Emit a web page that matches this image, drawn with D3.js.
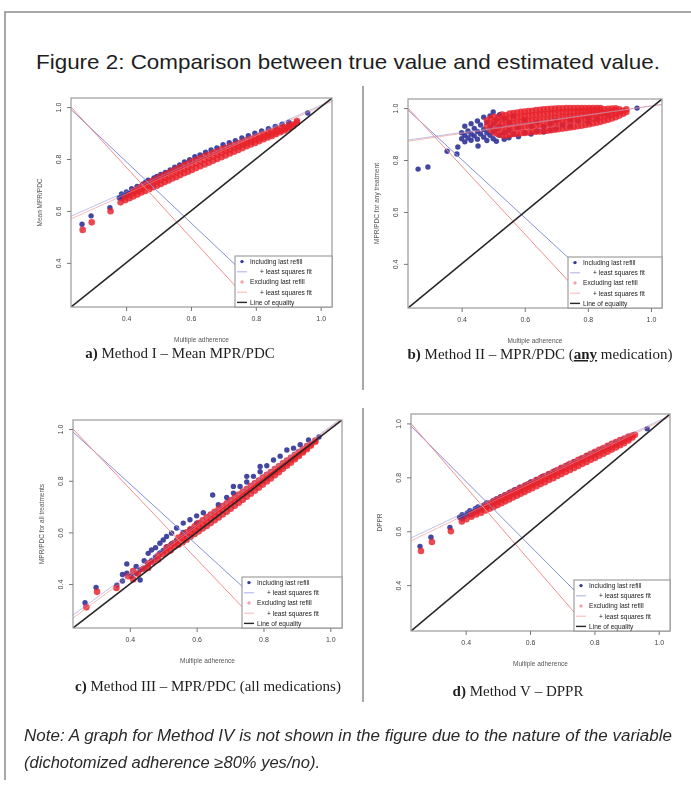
<!DOCTYPE html>
<html>
<head>
<meta charset="utf-8">
<script src="https://cdn.jsdelivr.net/npm/d3@7/dist/d3.min.js"></script>
<style>
  body { margin: 0; background: #fff; }
  svg { display: block; }
</style>
</head>
<body>
<div id="vis"></div>
<script>
// Frame size
const FRAME_WIDTH = 691;
const FRAME_HEIGHT = 787;

// ---- Data ----
const TITLE = "Figure 2: Comparison between true value and estimated value.";
const NOTE_LINES = ["Note: A graph for Method IV is not shown in the figure due to the nature of the variable",
                    "(dichotomized adherence \u226580% yes/no)."];
const TICKS = [0.4, 0.6, 0.8, 1.0];
const TICK_LABELS = ["0.4", "0.6", "0.8", "1.0"];
const AXIS_RANGE = [0.23, 1.035];
const X_TITLE = "Multiple adherence";
const Y_TITLES = ["Mean MPR/PDC", "MPR/PDC for any treatment", "MPR/PDC for all treatments", "DPPR"];
const CAPTIONS = ["a) Method I \u2013 Mean MPR/PDC", "b) Method II \u2013 MPR/PDC (any medication)",
                  "c) Method III \u2013 MPR/PDC (all medications)", "d) Method V \u2013 DPPR"];
const CAPTION_EMPHASIS = ["", "any", "", ""];
const LEGEND_LABELS = ["Including last refill", "+ least squares fit", "Excluding last refill", "+ least squares fit", "Line of equality"];

// least squares fit lines [intercept, slope]
const FIT_INCL = [[0.452, 0.555], [0.838, 0.17], [0.062, 0.948], [0.445, 0.565]];
const FIT_EXCL = [[0.44, 0.562], [0.832, 0.176], [0.048, 0.958], [0.433, 0.572]];
// falling lines drawn from the top-left corner [intercept, slope]
const FALL_INCL = [[1.262, -1.18], [1.25, -1.12], [1.26, -1.18], [1.266, -1.2]];
const FALL_EXCL = [[1.313, -1.36], [1.301, -1.31], [1.313, -1.36], [1.317, -1.38]];

// scatter points: each row is x followed by the y values read at that x
const INCL_A = [
  [0.264, 0.549], [0.292, 0.581], [0.350, 0.612], [0.379, 0.651], [0.386, 0.665, 0.647],
  [0.393, 0.657], [0.401, 0.673, 0.66], [0.409, 0.667], [0.417, 0.686, 0.671], [0.426, 0.679],
  [0.434, 0.694, 0.682], [0.443, 0.689], [0.451, 0.703, 0.69], [0.46, 0.711], [0.468, 0.703, 0.718],
  [0.477, 0.713], [0.486, 0.727], [0.495, 0.72, 0.733], [0.507, 0.741], [0.521, 0.748],
  [0.536, 0.758], [0.55, 0.768], [0.565, 0.777], [0.58, 0.789], [0.596, 0.797], [0.612, 0.809],
  [0.628, 0.816], [0.645, 0.826], [0.662, 0.835], [0.68, 0.843], [0.699, 0.855], [0.718, 0.863],
  [0.737, 0.871], [0.757, 0.881], [0.777, 0.89], [0.797, 0.899], [0.818, 0.908], [0.839, 0.917],
  [0.86, 0.925], [0.881, 0.934], [0.902, 0.942], [0.96, 0.977]
];
const EXCL_A = [
  [0.266, 0.527], [0.294, 0.556], [0.352, 0.599], [0.383, 0.633], [0.397, 0.641, 0.652],
  [0.41, 0.649, 0.661], [0.422, 0.656, 0.669, 0.677], [0.435, 0.663, 0.676, 0.686],
  [0.447, 0.671, 0.684, 0.694], [0.459, 0.677, 0.691, 0.703], [0.471, 0.684, 0.698, 0.709],
  [0.483, 0.691, 0.706, 0.717], [0.495, 0.697, 0.712, 0.724], [0.507, 0.704, 0.72, 0.732],
  [0.519, 0.711, 0.727, 0.739], [0.531, 0.717, 0.734, 0.746], [0.543, 0.725, 0.741, 0.754],
  [0.555, 0.731, 0.748, 0.76], [0.567, 0.738, 0.755, 0.768], [0.579, 0.745, 0.762, 0.776],
  [0.591, 0.751, 0.769, 0.782], [0.603, 0.758, 0.776, 0.79], [0.616, 0.765, 0.783, 0.796],
  [0.629, 0.772, 0.79, 0.803], [0.642, 0.779, 0.797, 0.811], [0.655, 0.786, 0.804, 0.816],
  [0.668, 0.793, 0.81, 0.824], [0.681, 0.8, 0.817, 0.829], [0.694, 0.807, 0.823, 0.837],
  [0.707, 0.814, 0.83, 0.842], [0.72, 0.821, 0.836, 0.849], [0.733, 0.828, 0.843, 0.854],
  [0.746, 0.835, 0.849, 0.861], [0.759, 0.842, 0.855, 0.866], [0.772, 0.849, 0.861, 0.873],
  [0.785, 0.856, 0.867, 0.878], [0.798, 0.862, 0.873, 0.885], [0.811, 0.869, 0.879, 0.889],
  [0.824, 0.876, 0.885, 0.896], [0.837, 0.883, 0.891, 0.9], [0.85, 0.889, 0.897, 0.907],
  [0.863, 0.896, 0.903, 0.911], [0.876, 0.903, 0.909, 0.918], [0.889, 0.91, 0.916, 0.922],
  [0.902, 0.918, 0.923, 0.929], [0.915, 0.927, 0.933], [0.927, 0.94, 0.946]
];
const INCL_B = [
  [0.262, 0.765], [0.293, 0.773], [0.354, 0.834], [0.385, 0.823], [0.388, 0.85], [0.452, 0.854],
  [0.40, 0.905, 0.882], [0.41, 0.93, 0.895, 0.87], [0.42, 0.912, 0.885], [0.43, 0.94, 0.9, 0.876],
  [0.44, 0.922, 0.893], [0.45, 0.95, 0.91, 0.88], [0.46, 0.935, 0.9], [0.47, 0.965, 0.918, 0.888],
  [0.48, 0.945, 0.905, 0.875], [0.49, 0.97, 0.925, 0.895], [0.50, 0.985, 0.94, 0.91, 0.882],
  [0.51, 0.955, 0.918, 0.872], [0.52, 0.975, 0.93, 0.895], [0.535, 0.96, 0.905, 0.88],
  [0.55, 0.945, 0.915, 0.886], [0.565, 0.97, 0.9], [0.58, 0.925, 0.89], [0.6, 0.955, 0.905],
  [0.62, 0.93, 0.9], [0.64, 0.945, 0.912], [0.66, 0.928, 0.908], [0.68, 0.94, 0.915], [0.7, 0.952, 0.92],
  [0.72, 0.935], [0.745, 0.955, 0.93], [0.77, 0.95], [0.8, 0.962, 0.945], [0.83, 0.958], [0.86, 0.975],
  [0.956, 1.0]
];
const EXCL_B = [
  [0.48, 0.93, 0.952], [0.492, 0.915, 0.94, 0.962], [0.504, 0.905, 0.926, 0.948, 0.966],
  [0.516, 0.899, 0.922, 0.944, 0.963], [0.528, 0.896, 0.918, 0.938, 0.958, 0.975],
  [0.54, 0.893, 0.915, 0.936, 0.955, 0.972], [0.552, 0.897, 0.92, 0.94, 0.96, 0.979],
  [0.564, 0.9, 0.921, 0.943, 0.962, 0.981], [0.576, 0.901, 0.924, 0.944, 0.965, 0.983],
  [0.588, 0.903, 0.925, 0.947, 0.966, 0.986], [0.60, 0.904, 0.928, 0.948, 0.969, 0.987],
  [0.612, 0.906, 0.929, 0.95, 0.97, 0.989], [0.624, 0.908, 0.931, 0.952, 0.972, 0.99],
  [0.636, 0.909, 0.932, 0.954, 0.973, 0.992], [0.648, 0.91, 0.934, 0.955, 0.975, 0.993],
  [0.66, 0.912, 0.935, 0.957, 0.977, 0.995], [0.672, 0.913, 0.937, 0.958, 0.978, 0.996],
  [0.684, 0.915, 0.939, 0.96, 0.98, 0.997], [0.696, 0.917, 0.941, 0.962, 0.981, 0.998],
  [0.708, 0.919, 0.943, 0.963, 0.983, 0.999], [0.72, 0.921, 0.944, 0.965, 0.984, 0.999],
  [0.732, 0.923, 0.946, 0.966, 0.985, 1.0], [0.744, 0.925, 0.948, 0.968, 0.986, 1.0],
  [0.756, 0.927, 0.95, 0.969, 0.987, 1.0], [0.768, 0.93, 0.952, 0.971, 0.988, 1.0],
  [0.78, 0.932, 0.954, 0.972, 0.989, 1.0], [0.792, 0.935, 0.956, 0.974, 0.99, 1.0],
  [0.804, 0.938, 0.958, 0.976, 0.991, 1.0], [0.816, 0.941, 0.96, 0.977, 0.992, 1.0],
  [0.828, 0.944, 0.962, 0.979, 0.993, 1.0], [0.84, 0.947, 0.965, 0.98, 0.994, 1.0],
  [0.852, 0.951, 0.968, 0.982, 0.995], [0.864, 0.955, 0.971, 0.985, 0.997],
  [0.876, 0.96, 0.975, 0.988, 0.998], [0.888, 0.965, 0.979, 0.991, 0.999],
  [0.9, 0.971, 0.984, 0.995], [0.912, 0.978, 0.99], [0.922, 0.985, 0.995]
];
const INCL_C = [
  [0.266, 0.328], [0.299, 0.387], [0.361, 0.396], [0.378, 0.437, 0.412], [0.391, 0.478, 0.442],
  [0.404, 0.43], [0.419, 0.442, 0.468], [0.431, 0.416, 0.455], [0.443, 0.49, 0.462],
  [0.455, 0.519, 0.475], [0.465, 0.532, 0.49], [0.477, 0.505, 0.541], [0.49, 0.558, 0.52],
  [0.5, 0.53, 0.571], [0.51, 0.584, 0.545], [0.525, 0.597, 0.556], [0.54, 0.617, 0.57],
  [0.56, 0.636, 0.6], [0.58, 0.649, 0.612], [0.6, 0.664, 0.636], [0.62, 0.676], [0.648, 0.745],
  [0.665, 0.707], [0.69, 0.735], [0.71, 0.778, 0.752], [0.73, 0.778], [0.75, 0.817, 0.795],
  [0.77, 0.817], [0.79, 0.855, 0.835], [0.81, 0.858], [0.83, 0.88], [0.85, 0.895], [0.87, 0.919],
  [0.89, 0.926], [0.91, 0.939], [0.935, 0.958], [0.966, 0.969]
];
const EXCL_C = [
  [0.27, 0.31], [0.302, 0.37], [0.36, 0.385], [0.395, 0.43], [0.41, 0.45, 0.418], [0.425, 0.44],
  [0.44, 0.458], [0.455, 0.462, 0.48], [0.47, 0.485], [0.485, 0.495, 0.51], [0.5, 0.515],
  [0.51, 0.525, 0.54], [0.522, 0.53, 0.548], [0.534, 0.545, 0.56], [0.546, 0.552, 0.568, 0.58],
  [0.558, 0.562, 0.578, 0.59], [0.57, 0.572, 0.588, 0.6], [0.582, 0.583, 0.598, 0.612],
  [0.594, 0.594, 0.61, 0.624], [0.606, 0.604, 0.621, 0.636], [0.618, 0.615, 0.632, 0.647],
  [0.63, 0.625, 0.643, 0.658], [0.642, 0.636, 0.654, 0.669], [0.654, 0.647, 0.665, 0.68],
  [0.666, 0.658, 0.676, 0.691], [0.678, 0.669, 0.687, 0.702], [0.69, 0.68, 0.698, 0.713],
  [0.702, 0.692, 0.71, 0.724], [0.714, 0.703, 0.721, 0.735], [0.726, 0.715, 0.732, 0.746],
  [0.738, 0.726, 0.744, 0.757], [0.75, 0.738, 0.755, 0.768], [0.762, 0.75, 0.766, 0.779],
  [0.774, 0.761, 0.778, 0.79], [0.786, 0.773, 0.789, 0.801], [0.798, 0.785, 0.8, 0.812],
  [0.81, 0.797, 0.811, 0.823], [0.822, 0.809, 0.822, 0.834], [0.834, 0.821, 0.834, 0.845],
  [0.846, 0.833, 0.845, 0.856], [0.858, 0.846, 0.857, 0.867], [0.87, 0.858, 0.868, 0.878],
  [0.882, 0.87, 0.88, 0.889], [0.894, 0.883, 0.891, 0.9], [0.906, 0.896, 0.903, 0.911],
  [0.918, 0.909, 0.915, 0.922], [0.93, 0.922, 0.928, 0.934], [0.942, 0.936, 0.941], [0.955, 0.951, 0.955]
];
const INCL_D = [
  [0.258, 0.544], [0.292, 0.578], [0.351, 0.614], [0.381, 0.652], [0.389, 0.661, 0.646], [0.397, 0.655],
  [0.405, 0.668], [0.413, 0.662, 0.676], [0.422, 0.671], [0.43, 0.684], [0.438, 0.677, 0.69],
  [0.447, 0.685], [0.456, 0.697], [0.465, 0.692, 0.705], [0.474, 0.699], [0.484, 0.712], [0.495, 0.72],
  [0.508, 0.728], [0.522, 0.736], [0.537, 0.745], [0.552, 0.754], [0.568, 0.763], [0.585, 0.772],
  [0.602, 0.783], [0.62, 0.792], [0.638, 0.803], [0.657, 0.813], [0.676, 0.824], [0.696, 0.835],
  [0.716, 0.846], [0.737, 0.858], [0.758, 0.869], [0.779, 0.881], [0.8, 0.892], [0.822, 0.904],
  [0.844, 0.916], [0.866, 0.928], [0.888, 0.94], [0.909, 0.95], [0.964, 0.98]
];
const EXCL_D = [
  [0.261, 0.527], [0.295, 0.56], [0.354, 0.6], [0.388, 0.636], [0.402, 0.645], [0.418, 0.654, 0.663],
  [0.433, 0.662, 0.672], [0.448, 0.669, 0.681], [0.462, 0.677, 0.689, 0.697], [0.475, 0.684, 0.696, 0.704],
  [0.487, 0.69, 0.703, 0.712], [0.499, 0.697, 0.71, 0.719], [0.511, 0.704, 0.717, 0.726],
  [0.523, 0.711, 0.724, 0.733], [0.535, 0.718, 0.731, 0.74], [0.547, 0.725, 0.738, 0.747],
  [0.559, 0.732, 0.745, 0.754], [0.571, 0.739, 0.752, 0.761], [0.583, 0.746, 0.759, 0.768],
  [0.595, 0.753, 0.766, 0.775], [0.607, 0.76, 0.773, 0.782], [0.62, 0.767, 0.78, 0.79],
  [0.633, 0.775, 0.788, 0.797], [0.646, 0.782, 0.795, 0.805], [0.659, 0.79, 0.803, 0.812],
  [0.672, 0.797, 0.81, 0.82], [0.685, 0.805, 0.818, 0.827], [0.698, 0.812, 0.825, 0.835],
  [0.711, 0.82, 0.833, 0.842], [0.724, 0.827, 0.84, 0.85], [0.737, 0.835, 0.848, 0.857],
  [0.75, 0.842, 0.855, 0.865], [0.763, 0.85, 0.863, 0.872], [0.776, 0.857, 0.87, 0.88],
  [0.789, 0.865, 0.878, 0.887], [0.802, 0.872, 0.885, 0.895], [0.815, 0.88, 0.893, 0.902],
  [0.828, 0.888, 0.9, 0.909], [0.841, 0.895, 0.907, 0.917], [0.854, 0.903, 0.914, 0.924],
  [0.867, 0.911, 0.921, 0.931], [0.88, 0.919, 0.928, 0.938], [0.893, 0.927, 0.936, 0.944],
  [0.906, 0.937, 0.944, 0.951], [0.918, 0.948, 0.955], [0.926, 0.958]
];
const INCL_POINTS = [INCL_A, INCL_B, INCL_C, INCL_D];
const EXCL_POINTS = [EXCL_A, EXCL_B, EXCL_C, EXCL_D];

// ---- Layout (pixel boxes of the four plot regions) ----
const PANELS = [
  {x0: 71, y0: 98, x1: 332, y1: 307, capX: 180, capY: 358},
  {x0: 408, y0: 99, x1: 662, y1: 308, capX: 540, capY: 359},
  {x0: 73, y0: 420, x1: 342, y1: 628, capX: 208, capY: 691},
  {x0: 411, y0: 414, x1: 670, y1: 631, capX: 518, capY: 696}
];

const INCL_COLOR = "#35379a";
const EXCL_COLOR = "#e8222c";
const FONT = "'Liberation Sans', Arial, sans-serif";

// Create the frame
const FRAME = d3.select("#vis")
                .append("svg")
                  .attr("width", FRAME_WIDTH)
                  .attr("height", FRAME_HEIGHT);

// soft blur to imitate the scanned figure
FRAME.append("defs")
  .append("filter")
    .attr("id", "soft")
  .append("feGaussianBlur")
    .attr("stdDeviation", 0.45);

// Outer border (top and left only are visible)
FRAME.append("path")
  .attr("d", "M5,780 L5,12 L691,12")
  .attr("fill", "none")
  .attr("stroke", "#8a8a8a")
  .attr("stroke-width", 1.5);

// Title
FRAME.append("text")
  .attr("x", 36)
  .attr("y", 69)
  .attr("textLength", 624)
  .attr("lengthAdjust", "spacingAndGlyphs")
  .style("font-family", FONT)
  .style("font-size", "21px")
  .attr("fill", "#1e1e1e")
  .text(TITLE);

// Dividers between the panels
FRAME.append("line").attr("x1", 363).attr("x2", 363).attr("y1", 86).attr("y2", 390)
  .attr("stroke", "#8a8a8a").attr("stroke-width", 1.5);
FRAME.append("line").attr("x1", 363).attr("x2", 363).attr("y1", 408).attr("y2", 702)
  .attr("stroke", "#8a8a8a").attr("stroke-width", 1.5);

// turn rows [x, y1, y2 ...] into point objects
function flatten(rows) {
  return rows.flatMap((r) => r.slice(1).map((y) => ({x: r[0], y: y})));
}

// Draw one panel
function drawPanel(i) {
  const P = PANELS[i];
  const X_SCALE = d3.scaleLinear().domain(AXIS_RANGE).range([P.x0, P.x1]);
  const Y_SCALE = d3.scaleLinear().domain(AXIS_RANGE).range([P.y1, P.y0]);

  const G = FRAME.append("g").attr("filter", "url(#soft)");

  // clip to plot region
  G.append("clipPath")
    .attr("id", "clip" + i)
    .append("rect")
      .attr("x", P.x0).attr("y", P.y0)
      .attr("width", P.x1 - P.x0).attr("height", P.y1 - P.y0);

  const PLOT = G.append("g").attr("clip-path", "url(#clip" + i + ")");

  // a straight line y = a + b x over the full range
  function abline(coef, color, width) {
    PLOT.append("line")
      .attr("x1", X_SCALE(AXIS_RANGE[0]))
      .attr("y1", Y_SCALE(coef[0] + coef[1] * AXIS_RANGE[0]))
      .attr("x2", X_SCALE(AXIS_RANGE[1]))
      .attr("y2", Y_SCALE(coef[0] + coef[1] * AXIS_RANGE[1]))
      .attr("stroke", color)
      .attr("stroke-width", width);
  }

  // points: including (blue) first, then excluding (red) on top
  PLOT.append("g")
    .selectAll("circle")
    .data(flatten(INCL_POINTS[i]))
    .enter()
    .append("circle")
      .attr("cx", (d) => X_SCALE(d.x))
      .attr("cy", (d) => Y_SCALE(d.y))
      .attr("r", 2.7)
      .attr("fill", INCL_COLOR)
      .attr("opacity", 0.92);

  PLOT.append("g")
    .selectAll("circle")
    .data(flatten(EXCL_POINTS[i]))
    .enter()
    .append("circle")
      .attr("cx", (d) => X_SCALE(d.x))
      .attr("cy", (d) => Y_SCALE(d.y))
      .attr("r", 3.3)
      .attr("fill", EXCL_COLOR)
      .attr("opacity", 0.82);

  // fit lines and the crossing lines
  abline(FIT_INCL[i], "rgba(140,145,215,0.55)", 1);
  abline(FIT_EXCL[i], "rgba(240,140,140,0.6)", 1);
  abline(FALL_INCL[i], "#8490da", 1);
  abline(FALL_EXCL[i], "#f28f8f", 1);

  // line of equality
  PLOT.append("line")
    .attr("x1", X_SCALE(AXIS_RANGE[0])).attr("y1", Y_SCALE(AXIS_RANGE[0]))
    .attr("x2", X_SCALE(AXIS_RANGE[1])).attr("y2", Y_SCALE(AXIS_RANGE[1]))
    .attr("stroke", "#262626")
    .attr("stroke-width", 1.6);

  // box
  G.append("rect")
    .attr("x", P.x0).attr("y", P.y0)
    .attr("width", P.x1 - P.x0).attr("height", P.y1 - P.y0)
    .attr("fill", "none")
    .attr("stroke", "#9a9a9a")
    .attr("stroke-width", 1.2);

  // x axis
  const XA = G.append("g")
    .attr("transform", "translate(0," + P.y1 + ")")
    .call(d3.axisBottom(X_SCALE).tickValues(TICKS)
            .tickFormat((d, k) => TICK_LABELS[k]).tickSize(4).tickSizeOuter(0));
  XA.select(".domain").remove();
  XA.selectAll("line").attr("stroke", "#777");
  XA.selectAll("text")
    .attr("y", 12)
    .attr("dy", "0.32em")
    .style("font-family", FONT)
    .style("font-size", "7px")
    .attr("fill", "#444");

  // y axis with labels parallel to the axis
  const YA = G.append("g")
    .attr("transform", "translate(" + P.x0 + ",0)")
    .call(d3.axisLeft(Y_SCALE).tickValues(TICKS)
            .tickFormat((d, k) => TICK_LABELS[k]).tickSize(4).tickSizeOuter(0));
  YA.select(".domain").remove();
  YA.selectAll("line").attr("stroke", "#777");
  YA.selectAll("text")
    .attr("transform", "rotate(-90)")
    .attr("x", 0)
    .attr("y", -10)
    .attr("dy", 0)
    .attr("text-anchor", "middle")
    .style("font-family", FONT)
    .style("font-size", "7px")
    .attr("fill", "#444");

  // axis titles
  G.append("text")
    .attr("x", (P.x0 + P.x1) / 2)
    .attr("y", P.y1 + 35)
    .attr("text-anchor", "middle")
    .style("font-family", FONT)
    .style("font-size", "6.5px")
    .attr("fill", "#555")
    .text(X_TITLE);

  G.append("text")
    .attr("transform", "translate(" + (P.x0 - 29) + "," + ((P.y0 + P.y1) / 2) + ") rotate(-90)")
    .attr("text-anchor", "middle")
    .style("font-family", FONT)
    .style("font-size", "6.5px")
    .attr("fill", "#555")
    .text(Y_TITLES[i]);

  // legend in the bottom-right corner
  const LW = Math.round((P.x1 - P.x0) * 0.37);
  const LH = 51;
  const LX = P.x1 - LW;
  const LY = P.y1 - LH;
  const ROW = LH / 5;
  const LEG = G.append("g");
  LEG.append("rect")
    .attr("x", LX).attr("y", LY).attr("width", LW).attr("height", LH)
    .attr("fill", "#fff").attr("stroke", "#8c8c8c").attr("stroke-width", 1);

  const KEYS = [
    {type: "point", color: INCL_COLOR},
    {type: "line", color: "#a8ade6"},
    {type: "point", color: "#f3a3a8"},
    {type: "line", color: "#f6b4b4"},
    {type: "line", color: "#262626"}
  ];
  KEYS.forEach((k, j) => {
    const cy = LY + ROW * (j + 0.5) + 0.5;
    if (k.type === "point") {
      LEG.append("circle").attr("cx", LX + 7).attr("cy", cy).attr("r", 1.7).attr("fill", k.color);
    } else {
      LEG.append("line")
        .attr("x1", LX + 2).attr("x2", LX + 12).attr("y1", cy).attr("y2", cy)
        .attr("stroke", k.color).attr("stroke-width", j === 4 ? 1.4 : 1);
    }
    LEG.append("text")
      .attr("x", LX + (LEGEND_LABELS[j].startsWith("+") ? 25 : 15))
      .attr("y", cy)
      .attr("dy", "0.35em")
      .style("font-family", FONT)
      .style("font-size", "6.6px")
      .attr("fill", "#222")
      .text(LEGEND_LABELS[j]);
  });

  // caption under the panel
  const CAP = FRAME.append("text")
    .attr("x", P.capX)
    .attr("y", P.capY)
    .attr("text-anchor", "middle")
    .style("font-family", "'Liberation Serif', 'Times New Roman', serif")
    .style("font-size", "15px")
    .attr("fill", "#1e1e1e");
  const txt = CAPTIONS[i];
  const first = txt.indexOf(" ");
  CAP.append("tspan").style("font-weight", "bold").text(txt.slice(0, first));
  let rest = txt.slice(first);
  const emph = CAPTION_EMPHASIS[i];
  if (emph) {
    const k = rest.indexOf(emph);
    CAP.append("tspan").text(rest.slice(0, k).replace(/ /g, "\u00a0"));
    CAP.append("tspan").style("font-weight", "bold").style("text-decoration", "underline").text(emph);
    rest = rest.slice(k + emph.length);
  }
  CAP.append("tspan").text(rest.replace(/ /g, "\u00a0"));
}

[0, 1, 2, 3].forEach(drawPanel);

// Note under the figure
NOTE_LINES.forEach((line, j) => {
  FRAME.append("text")
    .attr("x", 24)
    .attr("y", 741 + j * 27)
    .attr("textLength", j === 0 ? 648 : 296)
    .attr("lengthAdjust", "spacingAndGlyphs")
    .style("font-family", FONT)
    .style("font-size", "16px")
    .style("font-style", "italic")
    .attr("fill", "#2a2a2a")
    .text(line);
});
</script>
</body>
</html>
